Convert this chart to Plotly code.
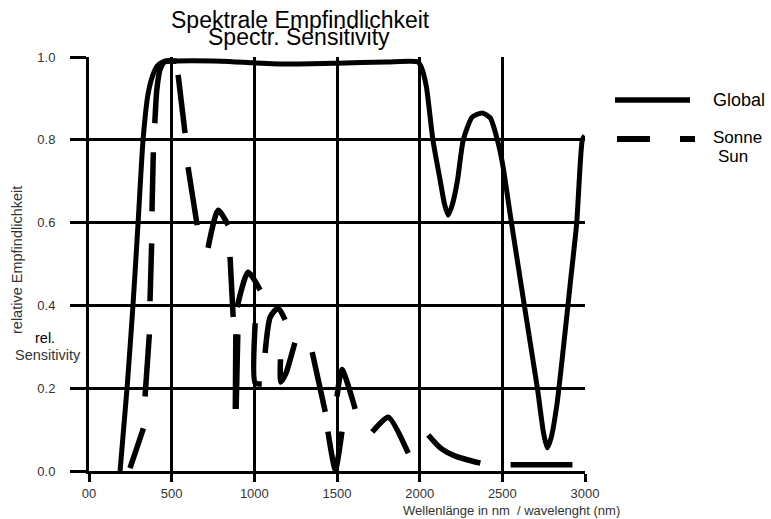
import plotly.graph_objects as go

# ---------------- data ----------------
global_x = [188, 230, 266, 297, 327, 357, 385, 412, 448, 500, 800, 1000, 1200,
            1500, 1800, 1990, 2010, 2040, 2080, 2125, 2150, 2172, 2195, 2228,
            2264, 2318, 2379, 2427, 2470, 2500, 2555, 2633, 2712, 2750, 2772,
            2795, 2830, 2870, 2910, 2950, 2984, 2998]
global_y = [0.0, 0.2, 0.4, 0.6, 0.8, 0.91, 0.955, 0.978, 0.988, 0.99, 0.99,
            0.986, 0.983, 0.985, 0.988, 0.988, 0.975, 0.93, 0.80, 0.70, 0.645,
            0.618, 0.64, 0.70, 0.80, 0.855, 0.865, 0.853, 0.80, 0.745, 0.60,
            0.40, 0.20, 0.09, 0.056, 0.08, 0.16, 0.30, 0.45, 0.60, 0.80, 0.81]

# Sonne / Sun: visible dash pieces (None = gap between dashes)
sonne_x = [248, 289, 329, None,
           339, 365, None,
           369, 379, None,
           381, 389, None,
           398, 410, 430, 460, 530, None,
           539, 581, None,
           599, 654, None,
           720, 781, 842, None,
           853, 872, None,
           888, 885, None, 890, 900, None,
           896, 962, 1035, None,
           1005, 1005, 1045, None,
           1065, 1096, 1144, 1186, None,
           1158, 1160, 1190, 1245, None,
           1350, 1429, None,
           1445, 1490, 1530, None,
           1500, 1530, 1610, None,
           1713, 1810, 1931, None,
           2052, 2125, 2216, 2367, None,
           2550, 2924]
sonne_y = [0.007, 0.055, 0.103, None,
           0.18, 0.33, None,
           0.41, 0.55, None,
           0.627, 0.77, None,
           0.84, 0.92, 0.97, 0.99, 0.99, None,
           0.957, 0.816, None,
           0.734, 0.594, None,
           0.539, 0.63, 0.594, None,
           0.517, 0.372, None,
           0.33, 0.15, None, 0.15, 0.33, None,
           0.396, 0.48, 0.437, None,
           0.357, 0.213, 0.21, None,
           0.285, 0.372, 0.394, 0.365, None,
           0.27, 0.215, 0.235, 0.31, None,
           0.287, 0.143, None,
           0.095, 0.003, 0.095, None,
           0.18, 0.245, 0.15, None,
           0.094, 0.13, 0.043, None,
           0.087, 0.056, 0.036, 0.019, None,
           0.015, 0.015]

x_ticks = [0, 500, 1000, 1500, 2000, 2500, 3000]
x_ticktext = ["00", "500", "1000", "1500", "2000", "2500", "3000"]
y_ticks = [0.0, 0.2, 0.4, 0.6, 0.8, 1.0]
y_ticktext = ["0.0", "0.2", "0.4", "0.6", "0.8", "1.0"]

# ---------------- figure ----------------
W, H = 771, 519
L, R, T, B = 89, 186, 57, 48
PW, PH = W - L - R, H - T - B
FONT = "Liberation Sans, Arial, sans-serif"


def px(xp):
    return (xp - L) / PW


def py(yp):
    return (H - B - yp) / PH


fig = go.Figure()
fig.add_trace(go.Scatter(x=global_x, y=global_y, mode="lines", name="Global",
                         line=dict(color="black", width=5, shape="spline", smoothing=0.6),
                         showlegend=False, hoverinfo="skip"))
fig.add_trace(go.Scatter(x=sonne_x, y=sonne_y, mode="lines", name="Sonne",
                         line=dict(color="black", width=5.5, shape="spline", smoothing=0.6),
                         connectgaps=False, showlegend=False, hoverinfo="skip"))

axis_common = dict(showgrid=True, gridcolor="black", gridwidth=3,
                   showline=True, linecolor="black", linewidth=3,
                   ticks="outside", tickcolor="black", tickwidth=3,
                   zeroline=False,
                   tickfont=dict(family=FONT, size=13, color="#333"))

fig.update_xaxes(range=[0, 3000], tickvals=x_ticks, ticktext=x_ticktext,
                 ticklen=8, **axis_common)
fig.update_yaxes(range=[0, 1], tickvals=y_ticks, ticktext=y_ticktext,
                 ticklen=16, ticklabelstandoff=12, **axis_common)

ann = []
ann.append(dict(text="Spektrale Empfindlichkeit", x=px(300), y=py(20), xref="paper", yref="paper",
                showarrow=False, xanchor="center", yanchor="middle",
                font=dict(family=FONT, size=23, color="black")))
ann.append(dict(text="Spectr. Sensitivity", x=px(299), y=py(37), xref="paper", yref="paper",
                showarrow=False, xanchor="center", yanchor="middle",
                font=dict(family=FONT, size=23, color="black")))
ann.append(dict(text="relative Empfindlichkeit", x=px(17), y=py(260), xref="paper", yref="paper",
                showarrow=False, xanchor="center", yanchor="middle", textangle=-90,
                font=dict(family=FONT, size=14.5, color="#333")))
ann.append(dict(text="rel.", x=px(45), y=py(338), xref="paper", yref="paper",
                showarrow=False, xanchor="center", yanchor="middle",
                font=dict(family=FONT, size=14.5, color="black")))
ann.append(dict(text="Sensitivity", x=px(48), y=py(355), xref="paper", yref="paper",
                showarrow=False, xanchor="center", yanchor="middle",
                font=dict(family=FONT, size=14.5, color="#333")))
ann.append(dict(text="Wellenlänge in nm  / wavelenght (nm)", x=px(401), y=py(510),
                xref="paper", yref="paper", showarrow=False, xanchor="left", yanchor="middle",
                font=dict(family=FONT, size=13, color="#333")))
# legend
ann.append(dict(text="Global", x=px(739), y=py(100), xref="paper", yref="paper",
                showarrow=False, xanchor="center", yanchor="middle",
                font=dict(family=FONT, size=18, color="black")))
ann.append(dict(text="Sonne", x=px(737), y=py(137), xref="paper", yref="paper",
                showarrow=False, xanchor="center", yanchor="middle",
                font=dict(family=FONT, size=17, color="black")))
ann.append(dict(text="Sun", x=px(733), y=py(156), xref="paper", yref="paper",
                showarrow=False, xanchor="center", yanchor="middle",
                font=dict(family=FONT, size=17, color="black")))

shapes = [
    dict(type="line", xref="paper", yref="paper", x0=px(615), x1=px(690), y0=py(100), y1=py(100),
         line=dict(color="black", width=5.5)),
    dict(type="line", xref="paper", yref="paper", x0=px(617), x1=px(650), y0=py(139), y1=py(139),
         line=dict(color="black", width=6)),
    dict(type="line", xref="paper", yref="paper", x0=px(680), x1=px(695), y0=py(139), y1=py(139),
         line=dict(color="black", width=6)),
]

fig.update_layout(width=W, height=H, margin=dict(l=L, r=R, t=T, b=B, pad=0),
                  paper_bgcolor="white", plot_bgcolor="white",
                  annotations=ann, shapes=shapes, showlegend=False)

fig.write_html("out.html", config={"displayModeBar": False},
               post_script="document.body.style.margin='0';document.body.style.padding='0';"
                           "document.body.style.overflow='hidden';")
